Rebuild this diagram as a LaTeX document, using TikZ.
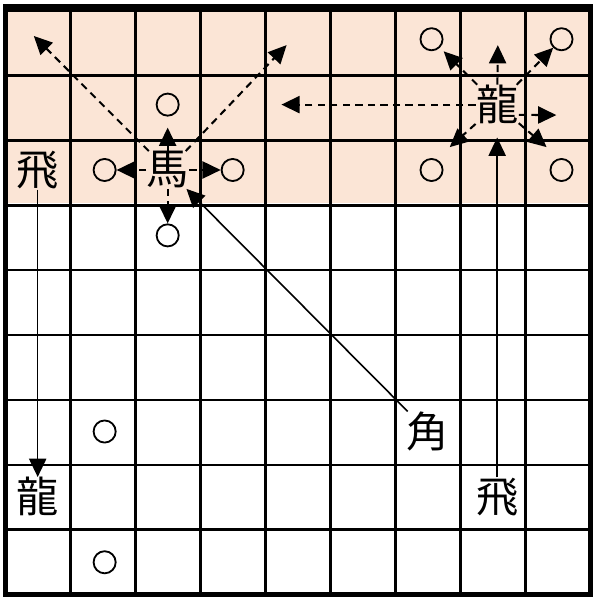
\documentclass[tikz,border=0pt]{standalone}
\usepackage{fontspec}
\newfontfamily\jpfont{Noto Sans CJK JP}
\usepackage{xcolor}
\usepackage{tikz}
\usetikzlibrary{arrows.meta}

\definecolor{promo}{HTML}{FBE5D6}

\begin{document}
\begin{tikzpicture}[
        x=1cm,
        y=1.006cm,
        >={Triangle[length=8pt,width=7.5pt]},
        gridline/.style={line width=1.3pt},
        frame/.style={line width=2.2pt},
        piece/.style={font=\jpfont\fontsize{18.5}{18.5}\selectfont, inner sep=0pt},
        maru/.style={draw, circle, line width=0.8pt, minimum size=0.34cm, inner sep=0pt},
        move/.style={->, line width=0.7pt},
        reach/.style={->, line width=0.9pt, dash pattern=on 3.2pt off 2.3pt}
    ]
        \useasboundingbox (-0.08,-0.077) rectangle (9.04,9.1);
        % Promotion zone (top three ranks) and the 9x9 board.
        \fill[promo] (0,6) rectangle (9,9);
        \draw[gridline] (0,0) grid (9,9);
        \draw[frame] (0,0) rectangle (9,9);

        \node[piece] (hi1) at (0.5,6.5) {飛};
        \node[piece] (ry1) at (0.5,1.5) {龍};
        \node[piece] (uma) at (2.5,6.5) {馬};
        \node[piece] (kaku) at (6.5,2.5) {角};
        \node[piece] (ry2) at (7.57,7.5) {龍};
        \node[piece] (hi2) at (7.57,1.5) {飛};

        \node[maru] (m27) at (2.5,7.5) {};
        \node[maru] (m16) at (1.53,6.5) {};
        \node[maru] (m36) at (3.5,6.5) {};
        \node[maru] (m25) at (2.5,5.5) {};
        \node[maru] (m68) at (6.56,8.5) {};
        \node[maru] (m88) at (8.56,8.5) {};
        \node[maru] (m66) at (6.56,6.5) {};
        \node[maru] (m86) at (8.56,6.5) {};
        \node[maru] (m12) at (1.53,2.5) {};
        \node[maru] (m10) at (1.53,0.5) {};

        \coordinate (umaNW) at (0.44,8.55);
        \coordinate (umaNE) at (4.33,8.41);
        \coordinate (ryuN) at (7.58,8.41);
        \coordinate (ryuW) at (4.25,7.5);
        \coordinate (ryuE) at (8.48,7.34);
        \coordinate (ryuSW) at (6.84,6.85);
        \coordinate (ryuSE) at (8.33,6.85);

        \draw[move] (hi1) -- (ry1);
        \draw[move] (kaku) -- (uma);
        \draw[move, shorten >=0.2cm] (hi2) -- (ry2);

        \draw[reach, shorten >=0.17cm] (uma) -- (m27);
        \draw[reach] (uma) -- (m25);
        \draw[reach] (uma) -- (m16);
        \draw[reach] (uma) -- (m36);
        \draw[reach] (uma) -- (umaNW);
        \draw[reach] (uma) -- (umaNE);

        \draw[reach] (ry2) -- (ryuN);
        \draw[reach] (ry2) -- (ryuW);
        \draw[reach] ([yshift=-4.5pt]ry2.east) -- (ryuE);
        \draw[reach, shorten >=0.08cm] (ry2) -- (m68);
        \draw[reach] (ry2) -- (m88);
        \draw[reach] (ry2) -- (ryuSW);
        \draw[reach] (ry2) -- (ryuSE);

    \end{tikzpicture}
\end{document}
